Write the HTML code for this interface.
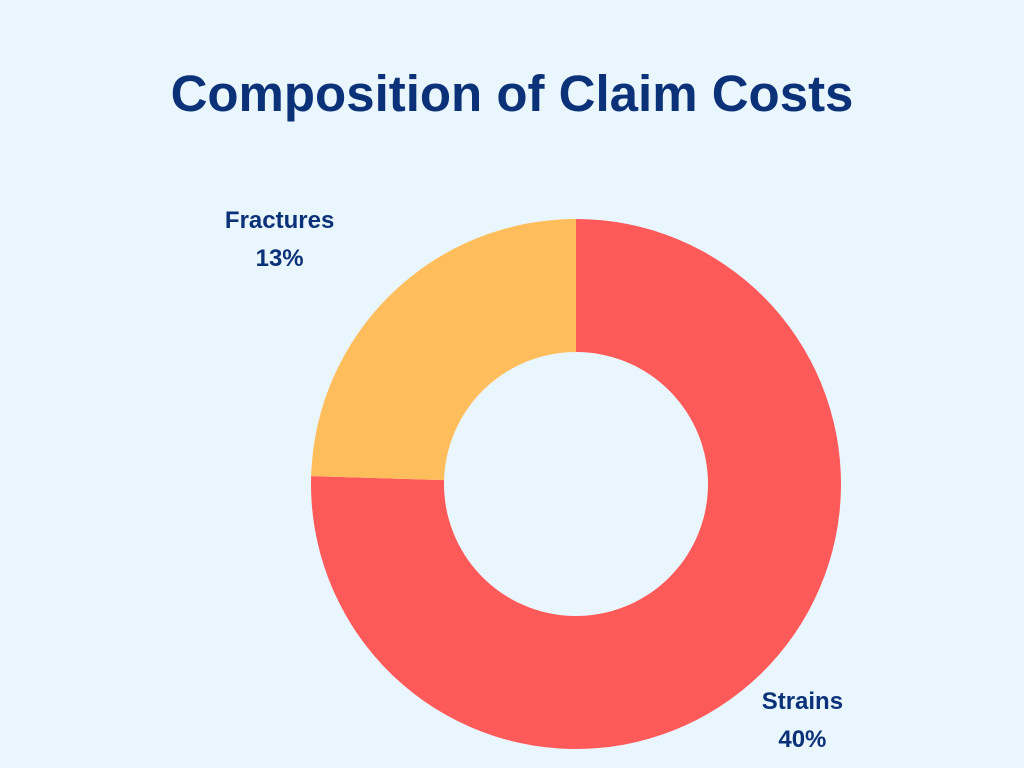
<!DOCTYPE html>
<html><head><meta charset="utf-8"><style>
html,body{margin:0;padding:0;background:#eaf6fd;}
svg{display:block;font-family:"Liberation Sans",sans-serif;}
</style></head><body>
<svg id="chart" width="1024" height="768">
<rect width="1024" height="768" fill="#eaf6fd"/>
<text x="512" y="111" text-anchor="middle" font-size="51" font-weight="bold" fill="#0b3178">Composition of Claim Costs</text>
<g id="slices"></g>
<g id="labels"></g>
</svg>
<script>
const categories = ["Strains", "Fractures"];
const values = [40, 13];
const colors = ["#ff5a5a", "#ffbd5c"];
const cx = 576, cy = 484, R = 265, r = 132;
const total = values.reduce((a, b) => a + b, 0);
const ns = "http://www.w3.org/2000/svg";
const sg = document.getElementById("slices"), lg = document.getElementById("labels");
function pt(rad, ang){ return [cx + rad*Math.sin(ang), cy - rad*Math.cos(ang)]; }
let start = 0;
values.forEach((v, i) => {
  const sweep = v / total * 2 * Math.PI, end = start + sweep;
  const large = sweep > Math.PI ? 1 : 0;
  const [x1,y1] = pt(R,start), [x2,y2] = pt(R,end), [x3,y3] = pt(r,end), [x4,y4] = pt(r,start);
  const p = document.createElementNS(ns, "path");
  p.setAttribute("d", `M${x1},${y1} A${R},${R} 0 ${large} 1 ${x2},${y2} L${x3},${y3} A${r},${r} 0 ${large} 0 ${x4},${y4} Z`);
  p.setAttribute("fill", colors[i]);
  
  
  sg.appendChild(p);
  const mid = start + sweep / 2;
  let [lx, ly] = pt(325, mid);
  if (Math.sin(mid) < 0) { lx -= 70; ly -= 15; }
  const t1 = document.createElementNS(ns, "text");
  t1.setAttribute("x", lx); t1.setAttribute("y", ly - 8);
  t1.setAttribute("text-anchor", "middle"); t1.setAttribute("font-size", "24");
  t1.setAttribute("font-weight", "bold"); t1.setAttribute("fill", "#0b3178");
  t1.textContent = categories[i];
  
  
  lg.appendChild(t1);
  const t2 = document.createElementNS(ns, "text");
  t2.setAttribute("x", lx); t2.setAttribute("y", ly + 30);
  t2.setAttribute("text-anchor", "middle"); t2.setAttribute("font-size", "24");
  t2.setAttribute("font-weight", "bold"); t2.setAttribute("fill", "#0b3178");
  t2.textContent = v + "%";
  
  
  lg.appendChild(t2);
  start = end;
});
</script>
</body></html>
